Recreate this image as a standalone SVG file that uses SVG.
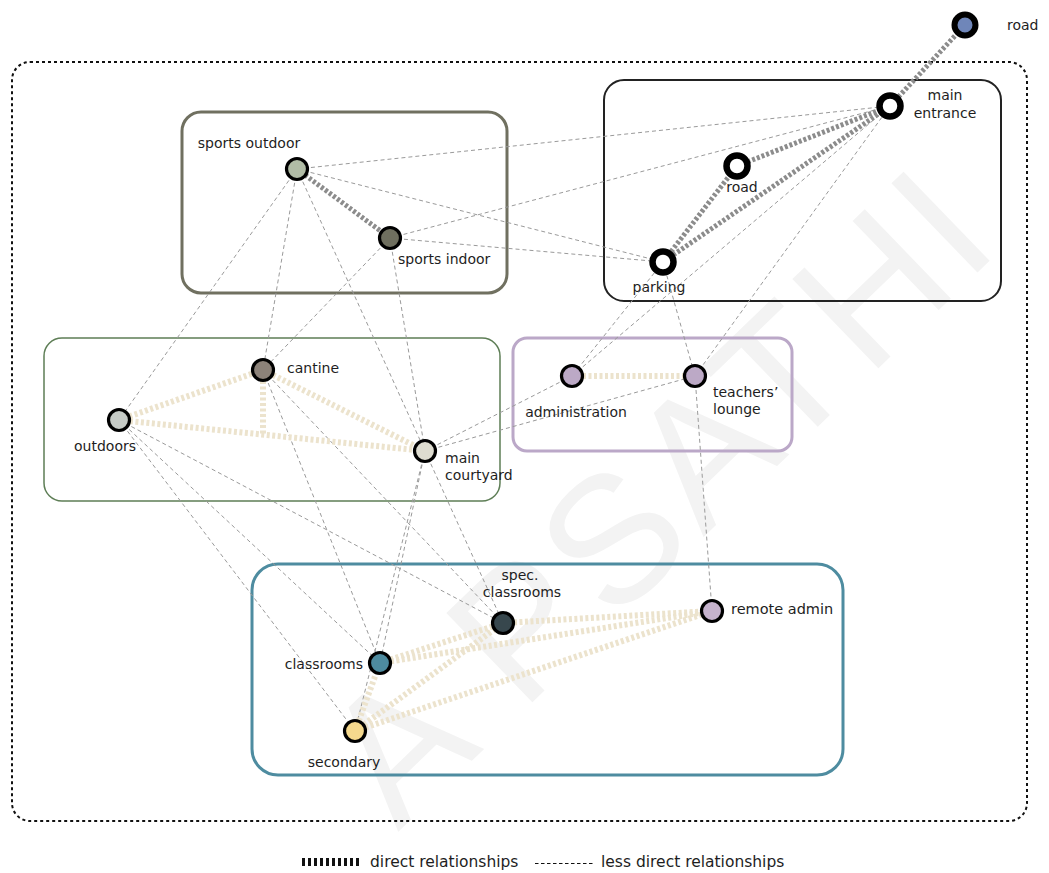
<svg xmlns="http://www.w3.org/2000/svg" width="1049" height="873" viewBox="0 0 1049 873">
  <style>
    .lbl { font-family: "DejaVu Sans", "Liberation Sans", sans-serif; font-size: 14px; fill: #1e1e1e; }
    .leg { font-family: "DejaVu Sans", "Liberation Sans", sans-serif; font-size: 15.5px; fill: #1e1e1e; }
    .mid { text-anchor: middle; }
    .end { text-anchor: end; }
    .weak { stroke: #9a9a9a; stroke-width: 1; stroke-dasharray: 4 3; fill: none; }
    .strong-grey { stroke: #8c8c8c; stroke-width: 5; stroke-dasharray: 3 2; fill: none; }
    .strong-beige { stroke: #ece3cd; stroke-width: 6; stroke-dasharray: 3 2.5; fill: none; }
    .node { stroke: #000; stroke-width: 3.2; }
    .hub { fill: #fff; stroke: #000; stroke-width: 6.5; }
    .zone { fill: none; }
  </style>

  <rect width="1049" height="873" fill="#fff"/>

  <!-- background watermark -->
  <text transform="translate(398,832) rotate(-44)" font-family="Liberation Sans, sans-serif" font-size="180" letter-spacing="6" fill="#f3f3f3">A PSATHI</text>

  <!-- site boundary -->
  <rect x="12" y="62" width="1015" height="759" rx="18" fill="none" stroke="#111" stroke-width="2" stroke-dasharray="3 3"/>

  <!-- zones -->
  <g id="zone-access">
    <rect class="zone" x="604" y="80" width="397" height="221" rx="20" stroke="#222" stroke-width="2"/>
  </g>
  <g id="zone-sports">
    <rect class="zone" x="182" y="112" width="325" height="181" rx="19" stroke="#707060" stroke-width="3"/>
  </g>
  <g id="zone-common">
    <rect class="zone" x="44" y="338" width="456" height="163" rx="18" stroke="#5e7e56" stroke-width="1.5"/>
  </g>
  <g id="zone-admin">
    <rect class="zone" x="513" y="338" width="279" height="113" rx="14" stroke="#bba8c8" stroke-width="3"/>
  </g>
  <g id="zone-teaching">
    <rect class="zone" x="252" y="564" width="591" height="211" rx="26" stroke="#4e8ca0" stroke-width="3"/>
  </g>

  <!-- connectors -->
  <g id="connectors">
    <!-- less direct relationships -->
    <line class="weak" x1="297" y1="169" x2="890" y2="106"/>
    <line class="weak" x1="390" y1="238" x2="890" y2="106"/>
    <line class="weak" x1="297" y1="169" x2="663" y2="262"/>
    <line class="weak" x1="390" y1="238" x2="663" y2="262"/>
    <line class="weak" x1="663" y1="262" x2="572" y2="376"/>
    <line class="weak" x1="890" y1="106" x2="572" y2="376"/>
    <line class="weak" x1="890" y1="106" x2="695" y2="376"/>
    <line class="weak" x1="663" y1="262" x2="695" y2="376"/>
    <line class="weak" x1="695" y1="376" x2="712" y2="611"/>
    <line class="weak" x1="425" y1="451" x2="572" y2="376"/>
    <line class="weak" x1="425" y1="451" x2="695" y2="376"/>
    <line class="weak" x1="297" y1="169" x2="119" y2="420"/>
    <line class="weak" x1="297" y1="169" x2="263" y2="370"/>
    <line class="weak" x1="297" y1="169" x2="425" y2="451"/>
    <line class="weak" x1="390" y1="238" x2="263" y2="370"/>
    <line class="weak" x1="390" y1="238" x2="425" y2="451"/>
    <line class="weak" x1="263" y1="370" x2="380" y2="663"/>
    <line class="weak" x1="263" y1="370" x2="503" y2="623"/>
    <line class="weak" x1="119" y1="420" x2="503" y2="623"/>
    <line class="weak" x1="119" y1="420" x2="380" y2="663"/>
    <line class="weak" x1="119" y1="420" x2="355" y2="731"/>
    <line class="weak" x1="425" y1="451" x2="380" y2="663"/>
    <line class="weak" x1="425" y1="451" x2="355" y2="731"/>
    <line class="weak" x1="425" y1="451" x2="503" y2="623"/>

    <!-- direct relationships: access -->
    <line class="strong-grey" x1="965" y1="25" x2="890" y2="106"/>
    <line class="strong-grey" x1="890" y1="106" x2="737" y2="166"/>
    <line class="strong-grey" x1="890" y1="106" x2="663" y2="262"/>
    <line class="strong-grey" x1="737" y1="166" x2="663" y2="262"/>
    <line class="strong-grey" x1="297" y1="169" x2="390" y2="238"/>

    <!-- direct relationships: common, admin, teaching -->
    <line class="strong-beige" x1="119" y1="420" x2="263" y2="370"/>
    <line class="strong-beige" x1="119" y1="420" x2="425" y2="451"/>
    <line class="strong-beige" x1="263" y1="370" x2="425" y2="451"/>
    <line class="strong-beige" x1="263" y1="370" x2="263" y2="435"/>
    <line class="strong-beige" x1="572" y1="376" x2="695" y2="376"/>
    <line class="strong-beige" x1="503" y1="623" x2="712" y2="611"/>
    <line class="strong-beige" x1="380" y1="663" x2="503" y2="623"/>
    <line class="strong-beige" x1="380" y1="663" x2="712" y2="611"/>
    <line class="strong-beige" x1="355" y1="731" x2="503" y2="623"/>
    <line class="strong-beige" x1="355" y1="731" x2="712" y2="611"/>
    <line class="strong-beige" x1="355" y1="731" x2="380" y2="663"/>
  </g>

  <!-- nodes -->
  <g id="road-outer">
    <circle cx="965" cy="25" r="10.5" fill="#6f86b9" stroke="#000" stroke-width="6"/>
    <text class="lbl" x="1007" y="30">road</text>
  </g>
  <g id="main-entrance">
    <circle class="hub" cx="890" cy="106" r="10.5"/>
    <text class="lbl mid" x="945" y="100">main</text>
    <text class="lbl mid" x="945" y="118">entrance</text>
  </g>
  <g id="road-inner">
    <circle class="hub" cx="737" cy="166" r="10.5"/>
    <text class="lbl mid" x="742" y="192">road</text>
  </g>
  <g id="parking">
    <circle class="hub" cx="663" cy="262" r="10.5"/>
    <text class="lbl mid" x="659" y="292">parking</text>
  </g>
  <g id="sports-outdoor">
    <circle class="node" cx="297" cy="169" r="10.5" fill="#b1bca6"/>
    <text class="lbl mid" x="249" y="148">sports outdoor</text>
  </g>
  <g id="sports-indoor">
    <circle class="node" cx="390" cy="238" r="10.5" fill="#6f6f5f"/>
    <text class="lbl" x="398" y="264">sports indoor</text>
  </g>
  <g id="cantine">
    <circle class="node" cx="263" cy="370" r="10.5" fill="#8c8279"/>
    <text class="lbl" x="287" y="373">cantine</text>
  </g>
  <g id="outdoors">
    <circle class="node" cx="119" cy="420" r="10.5" fill="#c6cbc6"/>
    <text class="lbl mid" x="105" y="451">outdoors</text>
  </g>
  <g id="main-courtyard">
    <circle class="node" cx="425" cy="451" r="10.5" fill="#dedcd0"/>
    <text class="lbl" x="445" y="463">main</text>
    <text class="lbl" x="445" y="480">courtyard</text>
  </g>
  <g id="administration">
    <circle class="node" cx="572" cy="376" r="10.5" fill="#bca9c6"/>
    <text class="lbl mid" x="576" y="417">administration</text>
  </g>
  <g id="teachers-lounge">
    <circle class="node" cx="695" cy="376" r="10.5" fill="#bca9c6"/>
    <text class="lbl" x="713" y="397">teachers’</text>
    <text class="lbl" x="713" y="414">lounge</text>
  </g>
  <g id="spec-classrooms">
    <circle class="node" cx="503" cy="623" r="10.5" fill="#37474d"/>
    <text class="lbl mid" x="520" y="580">spec.</text>
    <text class="lbl mid" x="522" y="597">classrooms</text>
  </g>
  <g id="remote-admin">
    <circle class="node" cx="712" cy="611" r="10.5" fill="#c6b3cd"/>
    <text class="lbl" x="731" y="614" style="font-size:14.5px">remote admin</text>
  </g>
  <g id="classrooms">
    <circle class="node" cx="380" cy="663" r="10.5" fill="#4e8b9f"/>
    <text class="lbl end" x="363" y="669">classrooms</text>
  </g>
  <g id="secondary">
    <circle class="node" cx="355" cy="731" r="10.5" fill="#f5d98e"/>
    <text class="lbl mid" x="344" y="767">secondary</text>
  </g>

  <!-- legend -->
  <g id="legend">
    <line x1="302" y1="862" x2="361" y2="862" stroke="#111" stroke-width="8" stroke-dasharray="3 3"/>
    <text class="leg" x="370" y="867">direct relationships</text>
    <line x1="535" y1="863.5" x2="594" y2="863.5" stroke="#111" stroke-width="1" stroke-dasharray="3.5 2.5"/>
    <text class="leg" x="601" y="867">less direct relationships</text>
  </g>
</svg>
